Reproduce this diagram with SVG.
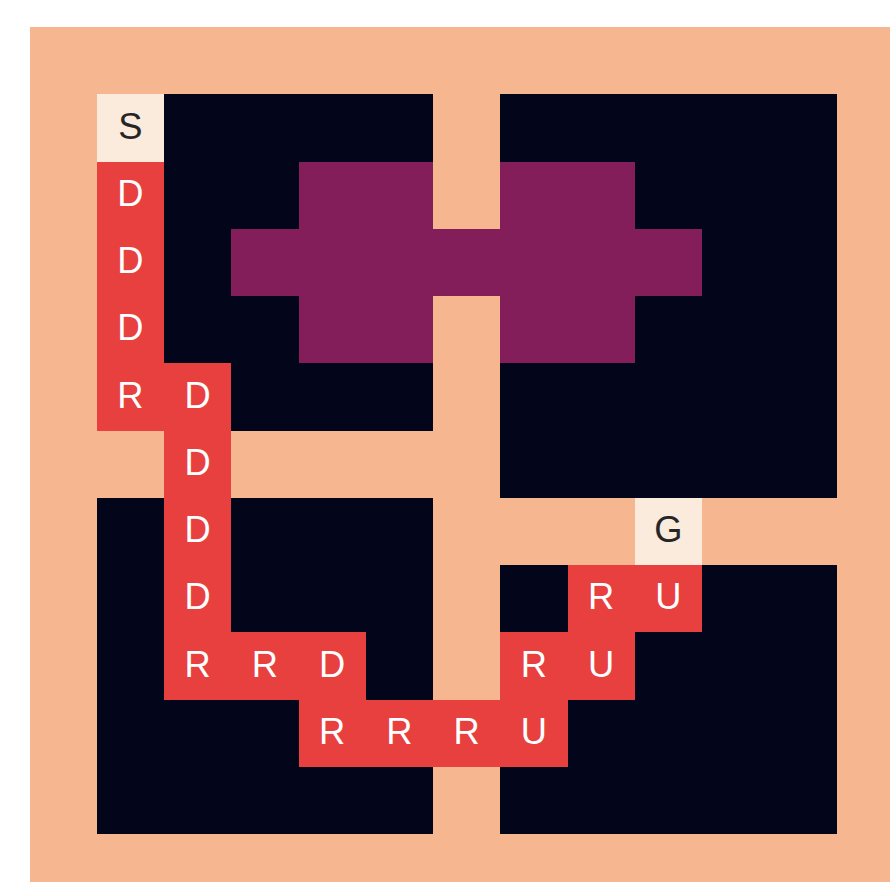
<svg xmlns="http://www.w3.org/2000/svg" width="890" height="882" viewBox="0 0 890 882">
<style>
rect{shape-rendering:crispEdges}
.bg{fill:#F5B690}
.wall{fill:#03051A}
.hz{fill:#841E5A}
.path{fill:#E83F3F}
.end{fill:#FAEBDD}
.t{font-family:"Liberation Sans",Arial,sans-serif;font-size:0.54px;text-anchor:middle}
.tw{fill:#FFFFFF}
.td{fill:#262626}
</style>
<rect x="0" y="0" width="890" height="882" fill="#FFFFFF"/>
<g transform="translate(29.5 27) scale(67.25)">
<rect id="grid" class="bg" x="0" y="0" width="13" height="13"/>
<g id="walls">
<rect class="wall" x="1" y="1" width="5" height="5"/>
<rect class="wall" x="7" y="1" width="5" height="6"/>
<rect class="wall" x="1" y="7" width="5" height="5"/>
<rect class="wall" x="7" y="8" width="5" height="4"/>
</g>
<g id="hazard">
<rect class="hz" x="3" y="3" width="7" height="1"/>
<rect class="hz" x="4" y="2" width="2" height="3"/>
<rect class="hz" x="7" y="2" width="2" height="3"/>
</g>
<g id="start"><rect class="end" x="1" y="1" width="1" height="1"/><text class="t td" x="1.5" y="1.66">S</text></g>
<g id="goal"><rect class="end" x="9" y="7" width="1" height="1"/><text class="t td" x="9.5" y="7.66">G</text></g>
<g id="route">
<g id="p1"><rect class="path" x="1" y="2" width="1" height="1"/><text class="t tw" x="1.5" y="2.66">D</text></g>
<g id="p2"><rect class="path" x="1" y="3" width="1" height="1"/><text class="t tw" x="1.5" y="3.66">D</text></g>
<g id="p3"><rect class="path" x="1" y="4" width="1" height="1"/><text class="t tw" x="1.5" y="4.66">D</text></g>
<g id="p4"><rect class="path" x="1" y="5" width="1" height="1"/><text class="t tw" x="1.5" y="5.66">R</text></g>
<g id="p5"><rect class="path" x="2" y="5" width="1" height="1"/><text class="t tw" x="2.5" y="5.66">D</text></g>
<g id="p6"><rect class="path" x="2" y="6" width="1" height="1"/><text class="t tw" x="2.5" y="6.66">D</text></g>
<g id="p7"><rect class="path" x="2" y="7" width="1" height="1"/><text class="t tw" x="2.5" y="7.66">D</text></g>
<g id="p8"><rect class="path" x="2" y="8" width="1" height="1"/><text class="t tw" x="2.5" y="8.66">D</text></g>
<g id="p9"><rect class="path" x="2" y="9" width="1" height="1"/><text class="t tw" x="2.5" y="9.66">R</text></g>
<g id="p10"><rect class="path" x="3" y="9" width="1" height="1"/><text class="t tw" x="3.5" y="9.66">R</text></g>
<g id="p11"><rect class="path" x="4" y="9" width="1" height="1"/><text class="t tw" x="4.5" y="9.66">D</text></g>
<g id="p12"><rect class="path" x="4" y="10" width="1" height="1"/><text class="t tw" x="4.5" y="10.66">R</text></g>
<g id="p13"><rect class="path" x="5" y="10" width="1" height="1"/><text class="t tw" x="5.5" y="10.66">R</text></g>
<g id="p14"><rect class="path" x="6" y="10" width="1" height="1"/><text class="t tw" x="6.5" y="10.66">R</text></g>
<g id="p15"><rect class="path" x="7" y="10" width="1" height="1"/><text class="t tw" x="7.5" y="10.66">U</text></g>
<g id="p16"><rect class="path" x="7" y="9" width="1" height="1"/><text class="t tw" x="7.5" y="9.66">R</text></g>
<g id="p17"><rect class="path" x="8" y="9" width="1" height="1"/><text class="t tw" x="8.5" y="9.66">U</text></g>
<g id="p18"><rect class="path" x="8" y="8" width="1" height="1"/><text class="t tw" x="8.5" y="8.66">R</text></g>
<g id="p19"><rect class="path" x="9" y="8" width="1" height="1"/><text class="t tw" x="9.5" y="8.66">U</text></g>
</g>
</g>
</svg>
